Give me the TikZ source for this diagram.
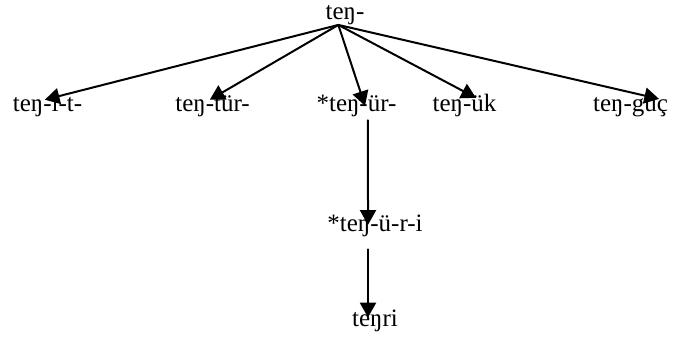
\documentclass[tikz,border=0pt]{standalone}
\usepackage{fontspec}
\setmainfont{Liberation Serif}
\usetikzlibrary{arrows.meta}

\begin{document}
\begin{tikzpicture}[x=0.75pt,y=0.75pt,line cap=round]

    % let's define some key values
    \def\yrow{226}
    \def\ystem{106}
    \def\ybottom{11}

    % Styles
    \tikzstyle{word}=[anchor=base, inner sep=1pt, text height=0.7em, text depth=0.25em, font=\fontsize{18.75}{22}\selectfont]
    \tikzstyle{branch}=[-{Triangle[length=11pt,width=12pt]}, line width=1.5pt]

    \useasboundingbox (0,0) rectangle (673,338);

    % root
    \node[word] (teng) at (345,318) {teŋ-};
    \coordinate (fork) at ([xshift=-5pt]teng.south);

    % first derivations
    \node[word] (tengit) at (47.5,\yrow) {teŋ-i-t-};
    \node[word] (tengtur) at (212.5,\yrow) {teŋ-tür-};
    \node[word] (tengur) at (356.5,\yrow) {*teŋ-ür-};
    \node[word] (tenguk) at (464.5,\yrow) {teŋ-ük};
    \node[word] (tengguc) at (630.5,\yrow) {teŋ-güç};

    % arrows from the root
    \draw[branch] (fork) -- ([xshift=-2pt,yshift=1pt]tengit.north);
    \draw[branch] (fork) -- ([xshift=-2pt,yshift=1pt]tengtur.north);
    \draw[branch] (fork) -- ([xshift=6.4pt,yshift=-3.6pt]tengur.north);
    \draw[branch] (fork) -- ([xshift=8.6pt,yshift=2.4pt]tenguk.north);
    \draw[branch] (fork) -- ([xshift=21.4pt,yshift=1.6pt]tengguc.north);

    % the stem down to teŋri
    \node[word] (tenguri) at (375,\ystem) {*teŋ-ü-r-i};
    \node[word] (tengri) at (375,\ybottom) {teŋri};

    \draw[branch] ([xshift=8.6pt,yshift=-2.5pt]tengur.south) -- ([xshift=-5.25pt,yshift=-2.8pt]tenguri.north);
    \draw[branch] ([xshift=-5.25pt,yshift=-9.3pt]tenguri.south) -- ([xshift=-5.25pt,yshift=-1pt]tengri.north);

\end{tikzpicture}
\end{document}
